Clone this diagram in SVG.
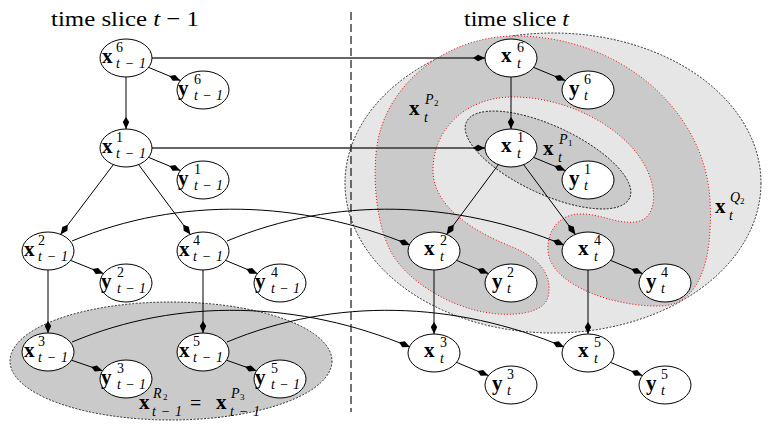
<svg xmlns="http://www.w3.org/2000/svg" width="768" height="425" viewBox="0 0 768 425">
<style>
text{font-family:"Liberation Serif","Times New Roman",serif;fill:#000}
.t{font-size:22px}
.b{font-size:21px;font-weight:bold}
.s{font-size:14px}
.si{font-size:14px;font-style:italic}
.ss{font-size:9px}
.i{font-size:14px;font-style:italic}
.n ellipse{fill:#fff;stroke:#000;stroke-width:1}
.e{fill:none;stroke:#000;stroke-width:1;marker-end:url(#arr)}
.h{fill:none;stroke:#333;stroke-width:1.3;marker-end:url(#arr)}
</style>
<defs>
<marker id="arr" markerUnits="userSpaceOnUse" viewBox="0 0 12 8" refX="12" refY="4" markerWidth="12" markerHeight="8" orient="auto">
<path d="M12,4 L5,0.8 L0,4 L5,7.2 Z" fill="#000"/>
</marker>
</defs>

<g id="regions">
<ellipse id="R2" cx="171" cy="361" rx="161" ry="59" fill="#cacaca" stroke="#000" stroke-width="0.8" stroke-dasharray="2 1.5"/>
<ellipse id="Q2" cx="553" cy="183" rx="208" ry="150" fill="#e6e6e6" stroke="#000" stroke-width="0.8" stroke-dasharray="2 1.5"/>
<path id="P2" d="M515,36 C620,36 705,110 710,200 C713,260 700,305 660,306 C620,307 565,290 551,262 C543,246 550,216 578,214 C600,213 615,224 635,222 C655,220 658,195 648,172 C630,130 570,97 513,97 C465,97 433,130 433,170 C433,205 470,230 510,246 C540,258 553,275 548,297 C543,315 510,316 490,313 C450,308 405,280 390,250 C375,220 372,170 378,140 C390,80 450,36 515,36 Z" fill="#cacaca" stroke="#f00" stroke-width="1" stroke-dasharray="1 2"/>
<ellipse id="P1" cx="0" cy="0" rx="90" ry="34" transform="translate(548 160) rotate(25)" fill="#cacaca" stroke="#000" stroke-width="0.8" stroke-dasharray="2 1.5"/>
</g>

<line id="divider" x1="351" y1="12" x2="351" y2="412" stroke="#000" stroke-width="1.1" stroke-dasharray="8 4"/>

<g id="titles">
<text class="t" x="51" y="26" textLength="148" lengthAdjust="spacingAndGlyphs">time slice <tspan font-style="italic">t</tspan> − 1</text>
<text class="t" x="464" y="26" textLength="105" lengthAdjust="spacingAndGlyphs">time slice <tspan font-style="italic">t</tspan></text>
</g>

<g id="region-labels">
<g id="lab-R2P3">
<text class="b" x="139" y="409">x</text><text class="si" x="153" y="398">R</text><text class="ss" x="163" y="400">2</text><text class="i" x="152" y="416" textLength="30" lengthAdjust="spacing">t−1</text>
<text style="font-size:20px" x="190" y="410">=</text>
<text class="b" x="216" y="409">x</text><text class="si" x="231" y="398">P</text><text class="ss" x="240" y="400">3</text><text class="i" x="230" y="416" textLength="30" lengthAdjust="spacing">t−1</text>
</g>
<g id="lab-P2"><text class="b" x="409" y="115">x</text><text class="si" x="425" y="104">P</text><text class="ss" x="434" y="106">2</text><text class="i" x="424" y="122">t</text></g>
<g id="lab-P1"><text class="b" x="543" y="155">x</text><text class="si" x="559" y="144">P</text><text class="ss" x="568" y="146">1</text><text class="i" x="558" y="162">t</text></g>
<g id="lab-Q2"><text class="b" x="715" y="213">x</text><text class="si" x="730" y="202">Q</text><text class="ss" x="740" y="204">2</text><text class="i" x="729" y="220">t</text></g>
</g>

<g id="connectors">
<line class="h" x1="152" y1="58" x2="485" y2="58"/>
<line class="h" x1="152" y1="148" x2="485" y2="148"/>
<line class="e" x1="126" y1="77" x2="126" y2="129"/>
<line class="e" x1="113.4" y1="164.6" x2="60.6" y2="234.4"/>
<line class="e" x1="138.6" y1="164.6" x2="190.4" y2="234.4"/>
<line class="e" x1="48" y1="270" x2="48" y2="333"/>
<line class="e" x1="203" y1="270" x2="203" y2="333"/>
<line class="e" x1="511" y1="77" x2="511" y2="129"/>
<line class="e" x1="498.4" y1="164.6" x2="446.6" y2="234.4"/>
<line class="e" x1="523.6" y1="164.6" x2="575.4" y2="234.4"/>
<line class="e" x1="434" y1="270" x2="434" y2="334"/>
<line class="e" x1="588" y1="270" x2="588" y2="334"/>
<line class="e" x1="148.6" y1="67.4" x2="180.4" y2="80.6"/>
<line class="e" x1="148.6" y1="157.4" x2="180.4" y2="170.6"/>
<line class="e" x1="70.6" y1="260.4" x2="103.4" y2="273.6"/>
<line class="e" x1="225.6" y1="260.4" x2="257.4" y2="273.6"/>
<line class="e" x1="71.5" y1="360.2" x2="102.5" y2="370.8"/>
<line class="e" x1="226.5" y1="360.2" x2="256.5" y2="370.8"/>
<line class="e" x1="533.6" y1="67.4" x2="565.4" y2="80.6"/>
<line class="e" x1="533.6" y1="157.4" x2="565.4" y2="170.6"/>
<line class="e" x1="456.6" y1="260.4" x2="488.4" y2="273.6"/>
<line class="e" x1="610.6" y1="260.4" x2="642.4" y2="273.6"/>
<line class="e" x1="456.6" y1="362.4" x2="488.4" y2="375.6"/>
<line class="e" x1="610.6" y1="362.4" x2="642.4" y2="375.6"/>
<path class="e" d="M72,241 C180,196 300,200 410,245"/>
<path class="e" d="M227,241 C335,196 455,200 564,245"/>
<path class="e" d="M72,342 C180,297 300,301 410,347"/>
<path class="e" d="M227,342 C335,297 455,301 564,347"/>
</g>

<g id="x6_tm1" class="n"><ellipse cx="126" cy="58" rx="26" ry="19"/><text class="b" x="102" y="63">x</text><text class="s" x="116" y="52">6</text><text class="i" x="116" y="68" textLength="30" lengthAdjust="spacing">t−1</text></g>
<g id="y6_tm1" class="n"><ellipse cx="203" cy="90" rx="26" ry="19"/><text class="b" x="178" y="95">y</text><text class="s" x="194" y="84">6</text><text class="i" x="194" y="100" textLength="29" lengthAdjust="spacing">t−1</text></g>
<g id="x1_tm1" class="n"><ellipse cx="126" cy="148" rx="26" ry="19"/><text class="b" x="102" y="153">x</text><text class="s" x="116" y="142">1</text><text class="i" x="116" y="158" textLength="30" lengthAdjust="spacing">t−1</text></g>
<g id="y1_tm1" class="n"><ellipse cx="203" cy="180" rx="26" ry="19"/><text class="b" x="178" y="185">y</text><text class="s" x="194" y="174">1</text><text class="i" x="194" y="190" textLength="29" lengthAdjust="spacing">t−1</text></g>
<g id="x2_tm1" class="n"><ellipse cx="48" cy="251" rx="26" ry="19"/><text class="b" x="24" y="256">x</text><text class="s" x="38" y="245">2</text><text class="i" x="38" y="261" textLength="30" lengthAdjust="spacing">t−1</text></g>
<g id="y2_tm1" class="n"><ellipse cx="126" cy="283" rx="26" ry="19"/><text class="b" x="101" y="288">y</text><text class="s" x="117" y="277">2</text><text class="i" x="117" y="293" textLength="29" lengthAdjust="spacing">t−1</text></g>
<g id="x4_tm1" class="n"><ellipse cx="203" cy="251" rx="26" ry="19"/><text class="b" x="179" y="256">x</text><text class="s" x="193" y="245">4</text><text class="i" x="193" y="261" textLength="30" lengthAdjust="spacing">t−1</text></g>
<g id="y4_tm1" class="n"><ellipse cx="280" cy="283" rx="26" ry="19"/><text class="b" x="255" y="288">y</text><text class="s" x="271" y="277">4</text><text class="i" x="271" y="293" textLength="29" lengthAdjust="spacing">t−1</text></g>
<g id="x3_tm1" class="n"><ellipse cx="48" cy="352" rx="26" ry="19"/><text class="b" x="24" y="357">x</text><text class="s" x="38" y="346">3</text><text class="i" x="38" y="362" textLength="30" lengthAdjust="spacing">t−1</text></g>
<g id="y3_tm1" class="n"><ellipse cx="126" cy="379" rx="26" ry="19"/><text class="b" x="101" y="384">y</text><text class="s" x="117" y="373">3</text><text class="i" x="117" y="389" textLength="29" lengthAdjust="spacing">t−1</text></g>
<g id="x5_tm1" class="n"><ellipse cx="203" cy="352" rx="26" ry="19"/><text class="b" x="179" y="357">x</text><text class="s" x="193" y="346">5</text><text class="i" x="193" y="362" textLength="30" lengthAdjust="spacing">t−1</text></g>
<g id="y5_tm1" class="n"><ellipse cx="280" cy="379" rx="26" ry="19"/><text class="b" x="255" y="384">y</text><text class="s" x="271" y="373">5</text><text class="i" x="271" y="389" textLength="29" lengthAdjust="spacing">t−1</text></g>

<g id="x6_t" class="n"><ellipse cx="511" cy="58" rx="26" ry="19"/><text class="b" x="501" y="62">x</text><text class="s" x="517" y="52">6</text><text class="i" x="517" y="68">t</text></g>
<g id="y6_t" class="n"><ellipse cx="588" cy="90" rx="26" ry="19"/><text class="b" x="569" y="95">y</text><text class="s" x="584" y="84">6</text><text class="i" x="584" y="100">t</text></g>
<g id="x1_t" class="n"><ellipse cx="511" cy="148" rx="26" ry="19"/><text class="b" x="501" y="152">x</text><text class="s" x="517" y="142">1</text><text class="i" x="517" y="158">t</text></g>
<g id="y1_t" class="n"><ellipse cx="588" cy="180" rx="26" ry="19"/><text class="b" x="569" y="185">y</text><text class="s" x="584" y="174">1</text><text class="i" x="584" y="190">t</text></g>
<g id="x2_t" class="n"><ellipse cx="434" cy="251" rx="26" ry="19"/><text class="b" x="424" y="255">x</text><text class="s" x="440" y="245">2</text><text class="i" x="440" y="261">t</text></g>
<g id="y2_t" class="n"><ellipse cx="511" cy="283" rx="26" ry="19"/><text class="b" x="492" y="288">y</text><text class="s" x="507" y="277">2</text><text class="i" x="507" y="293">t</text></g>
<g id="x4_t" class="n"><ellipse cx="588" cy="251" rx="26" ry="19"/><text class="b" x="578" y="255">x</text><text class="s" x="594" y="245">4</text><text class="i" x="594" y="261">t</text></g>
<g id="y4_t" class="n"><ellipse cx="665" cy="283" rx="26" ry="19"/><text class="b" x="646" y="288">y</text><text class="s" x="661" y="277">4</text><text class="i" x="661" y="293">t</text></g>
<g id="x3_t" class="n"><ellipse cx="434" cy="353" rx="26" ry="19"/><text class="b" x="424" y="357">x</text><text class="s" x="440" y="347">3</text><text class="i" x="440" y="363">t</text></g>
<g id="y3_t" class="n"><ellipse cx="511" cy="385" rx="26" ry="19"/><text class="b" x="492" y="390">y</text><text class="s" x="507" y="379">3</text><text class="i" x="507" y="395">t</text></g>
<g id="x5_t" class="n"><ellipse cx="588" cy="353" rx="26" ry="19"/><text class="b" x="578" y="357">x</text><text class="s" x="594" y="347">5</text><text class="i" x="594" y="363">t</text></g>
<g id="y5_t" class="n"><ellipse cx="665" cy="385" rx="26" ry="19"/><text class="b" x="646" y="390">y</text><text class="s" x="661" y="379">5</text><text class="i" x="661" y="395">t</text></g>
</svg>
